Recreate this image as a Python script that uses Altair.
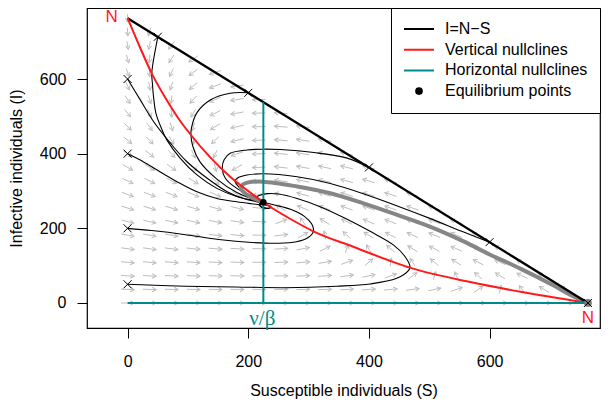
import math
import numpy as np
import pandas as pd
import altair as alt

# ---------------- values ----------------
N_POP = 763            # I = N - S meets both axes at N
S_STAR = 225           # nu/beta : position of the vertical horizontal-nullcline
NU = 1.0               # time scale (only directions are drawn)
BETA = NU / S_STAR
GAMMA = 1.0            # from the interior equilibrium I* ~ (N - nu/beta)/2

X_DOMAIN = [-67.3, 783]
Y_DOMAIN = [-67, 790.2]
TICKS = [0, 200, 400, 600]

red_S = [0, 21, 40, 62, 84, 104, 137, 170, 209, 225, 270, 308, 375, 469, 568, 651, 763]
red_I = [763, 683, 615, 551, 495, 452, 390, 338, 289, 270, 225, 192, 150, 94, 56, 30, 0]

# equilibria
eq_S = [225]
eq_I = [270]
dfe_S = [763]
dfe_I = [0]

# starting points of trajectories (x markers)
start_S = [0, 0, 0, 0, 50, 200, 400, 600, 763]
start_I = [600, 400, 200, 50, 713, 563, 363, 163, 0]

tA_S = [0, 21, 43, 71, 98, 132, 165, 192, 212, 226, 236, 234, 224, 218, 220, 225]
tA_I = [600, 544, 486, 428, 379, 334, 298, 280, 272, 265, 259, 254, 256, 262, 268, 270]
tB_S = [0, 21, 49, 82, 115, 148, 181, 205, 222, 235, 238, 229, 220, 222, 225]
tB_I = [400, 383, 356, 325, 298, 280, 271, 266, 263, 261, 256, 254, 259, 267, 270]
tC_S = [50, 47, 42, 40, 41, 43, 47, 56, 65, 87, 115, 148, 181, 205, 220, 225]
tC_I = [713, 687, 642, 614, 590, 552, 508, 468, 437, 388, 343, 307, 285, 276, 272, 270]
tD_S = [200, 170, 137, 115, 106, 105, 108, 120, 148, 181, 205, 220, 225]
tD_I = [563, 562, 544, 510, 470, 450, 420, 378, 332, 296, 280, 274, 270]
tE_S = [0, 40, 96, 151, 206, 250, 280, 298, 308, 305, 293, 270, 245, 230, 225]
tE_I = [200, 194, 183, 170, 162, 160, 164, 174, 192, 212, 232, 251, 262, 268, 270]
tF_S = [0, 96, 178, 261, 347, 402, 446, 466, 468, 460, 441, 402, 358, 319, 281, 250, 232, 218, 212, 216, 225]
tF_I = [50, 45, 43, 41, 45, 51, 66, 88, 98, 124, 155, 192, 229, 258, 280, 292, 293, 288, 281, 274, 270]
tG_S = [400, 364, 309, 253, 225, 198, 170, 160, 157, 162, 181, 209, 222, 225]
tG_I = [363, 388, 403, 411, 412, 410, 401, 384, 360, 334, 307, 285, 275, 270]
tH_S = [600, 557, 502, 447, 392, 336, 281, 225, 198, 182, 178, 185, 200, 216, 225]
tH_I = [163, 190, 226, 260, 292, 320, 338, 346, 343, 335, 326, 310, 290, 276, 270]
gray_S = [763, 735, 707, 651, 600, 557, 502, 447, 391, 336, 281, 225, 200, 190, 188, 196, 212, 225]
gray_I = [0, 21, 46, 92, 130, 165, 204, 236, 267, 294, 312, 325, 323, 316, 306, 292, 278, 270]

legend_labels = ["I=N\u2212S", "Vertical nullclines", "Horizontal nullclines", "Equilibrium points"]

# ---------------- styles ----------------
PLOT_W, PLOT_H = 513, 320
ARROW_GRAY = "#BEBEBE"
RED = "#FF1A1A"
TEAL = "#008B8B"
THICK_GRAY = "#868686"
FONT = "Liberation Sans"
HEAD = "M-0.866,-0.5L0,0L-0.866,0.5"
XMARK = "M-1,-1L1,1M-1,1L1,-1"
DOT = "M-0.19,0A0.19,0.19 0 1,1 0.19,0A0.19,0.19 0 1,1 -0.19,0Z"

# ---------------- tables ----------------
# direction field of the model on a 22 x 22 grid inside the triangle
GRID = 21
ARROW_LEN = 22.0
kx = PLOT_W / (X_DOMAIN[1] - X_DOMAIN[0])
ky = PLOT_H / (Y_DOMAIN[1] - Y_DOMAIN[0])
rows = []
for i in range(GRID + 1):
    for j in range(GRID + 1 - i):
        s = i * N_POP / GRID
        y = j * N_POP / GRID
        dS = -BETA * s * y + GAMMA * (N_POP - s - y)
        dI = BETA * s * y - NU * y
        m = math.hypot(dS, dI)
        if m < 1e-9:
            continue
        u, v = dS / m, dI / m
        ang = math.degrees(math.atan2(-v * ky, u * kx)) % 360
        rows.append(dict(S0=s - ARROW_LEN / 2 * u, I0=y - ARROW_LEN / 2 * v,
                         S1=s + ARROW_LEN / 2 * u, I1=y + ARROW_LEN / 2 * v, ang=ang))
arrows = pd.DataFrame(rows)

def traj_frame(pairs):
    out = []
    for name, ss, ii in pairs:
        for k, (s, y) in enumerate(zip(ss, ii)):
            out.append(dict(traj=name, k=k, S=s, I=y))
    return pd.DataFrame(out)

black_traj = traj_frame([("A", tA_S, tA_I), ("B", tB_S, tB_I), ("C", tC_S, tC_I),
                         ("D", tD_S, tD_I), ("E", tE_S, tE_I), ("F", tF_S, tF_I),
                         ("G", tG_S, tG_I), ("H", tH_S, tH_I)])
gray_traj = traj_frame([("gray", gray_S, gray_I)])
red_df = pd.DataFrame({"S": red_S, "I": red_I})
line_df = pd.DataFrame({"S": [0, N_POP], "I": [N_POP, 0]})
teal_df = pd.DataFrame({"S": [0, S_STAR], "I": [0, 0],
                        "S1": [N_POP, S_STAR], "I1": [0, N_POP - S_STAR]})
start_df = pd.DataFrame({"S": start_S, "I": start_I})
eq_df = pd.DataFrame({"S": eq_S, "I": eq_I})
dfe_df = pd.DataFrame({"S": dfe_S, "I": dfe_I})
legend_df = pd.DataFrame({"lab": legend_labels})

# ---------------- encodings ----------------
xs = alt.Scale(domain=X_DOMAIN, nice=False, zero=False)
ys = alt.Scale(domain=Y_DOMAIN, nice=False, zero=False)
xaxis = alt.Axis(values=TICKS, title="Susceptible individuals (S)", grid=False, domain=False,
                 tickSize=10, labelPadding=15, titlePadding=13, labelFlush=False)
yaxis = alt.Axis(values=TICKS, title="Infective individuals (I)", grid=False, domain=False,
                 tickSize=10, labelPadding=11, titlePadding=15, labelFlush=False)

def X(f):
    return alt.X(f, type="quantitative", scale=xs, axis=xaxis)

def Y(f):
    return alt.Y(f, type="quantitative", scale=ys, axis=yaxis)

shafts = alt.Chart(arrows).mark_rule(color=ARROW_GRAY, strokeWidth=1).encode(
    x=X("S0"), y=Y("I0"), x2=alt.X2("S1"), y2=alt.Y2("I1"))
heads = alt.Chart(arrows).mark_point(shape=HEAD, size=81, filled=False, color=ARROW_GRAY,
                                     strokeWidth=1, opacity=1).encode(
    x=X("S1"), y=Y("I1"), angle=alt.Angle("ang:Q", scale=None))

trajs = alt.Chart(black_traj).mark_line(color="black", strokeWidth=1.1,
                                        interpolate="catmull-rom").encode(
    x=X("S"), y=Y("I"), detail="traj:N", order="k:Q")
gray_line = alt.Chart(gray_traj).mark_line(color=THICK_GRAY, strokeWidth=4,
                                           interpolate="catmull-rom").encode(
    x=X("S"), y=Y("I"), order="k:Q")
nline = alt.Chart(line_df).mark_line(color="black", strokeWidth=2.3).encode(x=X("S"), y=Y("I"))
red_line = alt.Chart(red_df).mark_line(color=RED, strokeWidth=2, interpolate="monotone").encode(
    x=X("S"), y=Y("I"))
teal_lines = alt.Chart(teal_df).mark_rule(color=TEAL, strokeWidth=2).encode(
    x=X("S"), y=Y("I"), x2=alt.X2("S1"), y2=alt.Y2("I1"))

dfe_pt = alt.Chart(dfe_df).mark_point(shape="circle", size=60, filled=True, color="#777777",
                                      opacity=1).encode(x=X("S"), y=Y("I"))
starts = alt.Chart(start_df).mark_point(shape=XMARK, size=64, filled=False, color="black",
                                        strokeWidth=1, opacity=1).encode(x=X("S"), y=Y("I"))
eq_pt = alt.Chart(eq_df).mark_point(shape="circle", size=42, filled=True, color="black",
                                    opacity=1).encode(x=X("S"), y=Y("I"))

n_top = alt.Chart(pd.DataFrame({"S": [0], "I": [N_POP], "t": ["N"]})).mark_text(
    color=RED, font=FONT, fontSize=17, align="center", baseline="middle", dx=-16, dy=-1
).encode(x=X("S"), y=Y("I"), text="t:N")
n_bot = alt.Chart(pd.DataFrame({"S": [N_POP], "I": [0], "t": ["N"]})).mark_text(
    color=RED, font=FONT, fontSize=17, align="center", baseline="middle", dx=0, dy=15
).encode(x=X("S"), y=Y("I"), text="t:N")
nu_beta = alt.Chart(pd.DataFrame({"S": [S_STAR], "I": [0], "t": ["\u03bd/\u03b2"]})).mark_text(
    color=TEAL, font="Liberation Serif", fontSize=21, align="center", baseline="middle", dx=-1, dy=16
).encode(x=X("S"), y=Y("I"), text="t:N")

leg = alt.Legend(title=None)
legend_layer = alt.Chart(legend_df).mark_point(opacity=1, strokeWidth=2).encode(
    x=alt.value(0), y=alt.value(0),
    stroke=alt.Stroke("lab:N", scale=alt.Scale(domain=legend_labels,
                                                range=["black", RED, TEAL, "black"]), legend=leg),
    fill=alt.Fill("lab:N", scale=alt.Scale(domain=legend_labels,
                                            range=["transparent", "transparent", "transparent", "black"]),
                  legend=leg),
    shape=alt.Shape("lab:N", scale=alt.Scale(domain=legend_labels,
                                              range=["stroke", "stroke", "stroke", DOT]), legend=leg),
).transform_filter("false")

chart = alt.layer(
    shafts, heads, trajs, gray_line, nline, red_line, teal_lines,
    dfe_pt, starts, eq_pt, n_top, n_bot, nu_beta, legend_layer
).properties(
    width=PLOT_W, height=PLOT_H,
    padding={"left": 79, "top": 0, "right": 1, "bottom": 73},
    autosize=alt.AutoSizeParams(type="none"),
).configure_view(
    stroke="black", strokeWidth=1.2
).configure_axis(
    labelFont=FONT, titleFont=FONT, labelFontSize=16, titleFontSize=16,
    titleFontWeight="normal", labelColor="black", titleColor="black",
    tickColor="black", tickWidth=1
).configure_legend(
    orient="top-right", offset=0, padding=12, fillColor="white", strokeColor="black",
    symbolSize=900, symbolStrokeWidth=2, clipHeight=18, rowPadding=2.7, labelOffset=10,
    labelFont=FONT, labelFontSize=16, labelColor="black", labelLimit=300
)

chart.save("out.html", embed_options={"renderer": "svg", "actions": False})
